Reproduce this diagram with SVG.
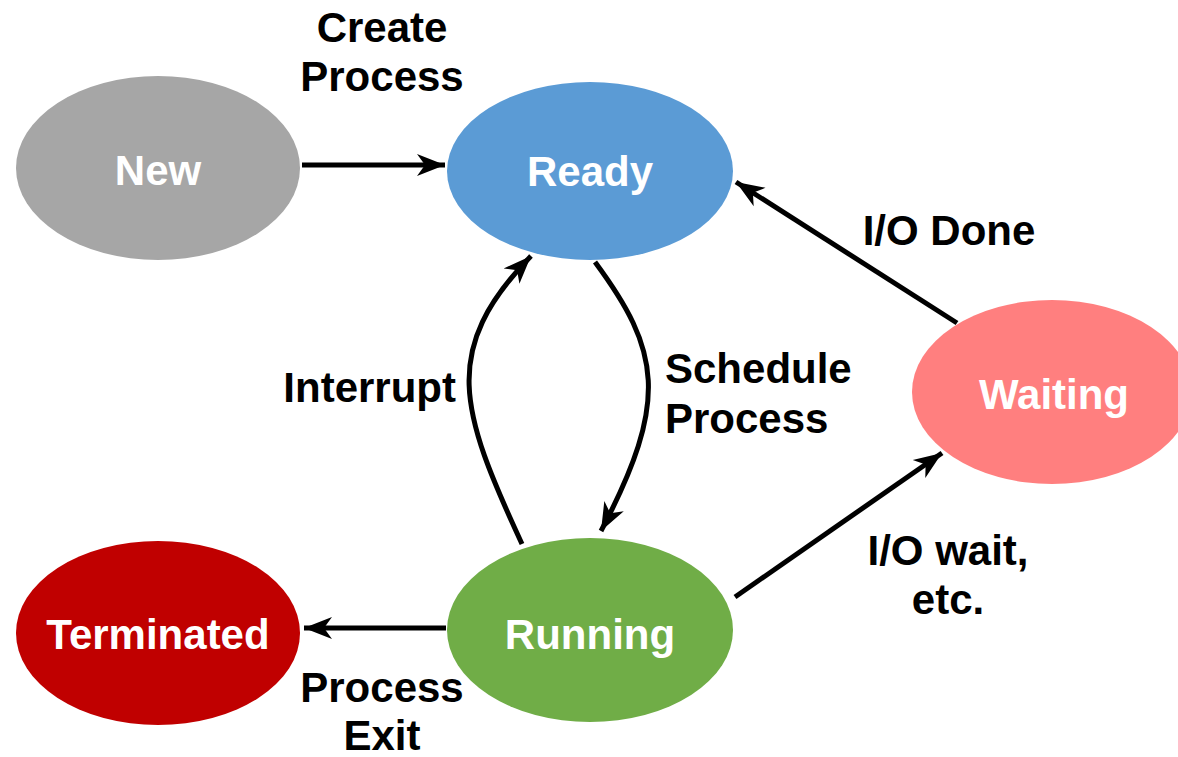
<svg xmlns="http://www.w3.org/2000/svg" width="1178" height="757" viewBox="0 0 1178 757">
<style>
text{font-family:"Liberation Sans",Arial,sans-serif;font-weight:bold;font-size:42px;}
.n{fill:#fff;text-anchor:middle;}
.l{fill:#000;}
.c{fill:none;stroke:#000;stroke-width:5;marker-end:url(#ah);}
</style>
<defs>
<marker id="ah" markerUnits="userSpaceOnUse" markerWidth="30" markerHeight="24" viewBox="0 0 30 24" refX="28" refY="12" orient="auto">
<path d="M0,1 L28,12 L0,23 L8,12 Z" fill="#000"/>
</marker>
</defs>
<rect width="1178" height="757" fill="#fff"/>
<g id="connectors">
<path class="c" d="M302,165 L445,165"/>
<path class="c" d="M446,628 L304,628"/>
<path class="c" d="M522,544 C460,410 440,350 531,256"/>
<path class="c" d="M595,262 C660,350 670,400 601,531"/>
<path class="c" d="M957,323 L736,182"/>
<path class="c" d="M735,597 L942,453"/>
</g>
<g id="new"><ellipse cx="158" cy="168" rx="142" ry="92" fill="#A6A6A6"/><text class="n" x="158" y="185">New</text></g>
<g id="ready"><ellipse cx="590" cy="171" rx="143" ry="89" fill="#5B9BD5"/><text class="n" x="590" y="186">Ready</text></g>
<g id="waiting"><ellipse cx="1052" cy="392" rx="140" ry="92" fill="#FF7F7F"/><text class="n" x="1054" y="409">Waiting</text></g>
<g id="terminated"><ellipse cx="158" cy="633" rx="142" ry="92" fill="#C00000"/><text class="n" x="158" y="649">Terminated</text></g>
<g id="running"><ellipse cx="590" cy="630" rx="143" ry="92" fill="#70AD47"/><text class="n" x="590" y="649">Running</text></g>
<g id="labels">
<text class="l" x="382" y="42" text-anchor="middle">Create</text>
<text class="l" x="382" y="91" text-anchor="middle">Process</text>
<text class="l" x="949" y="245" text-anchor="middle">I/O Done</text>
<text class="l" x="456" y="402" text-anchor="end">Interrupt</text>
<text class="l" x="665" y="383">Schedule</text>
<text class="l" x="665" y="433">Process</text>
<text class="l" x="948" y="565" text-anchor="middle">I/O wait,</text>
<text class="l" x="948" y="614" text-anchor="middle">etc.</text>
<text class="l" x="382" y="702" text-anchor="middle">Process</text>
<text class="l" x="382" y="750" text-anchor="middle">Exit</text>
</g>
</svg>
